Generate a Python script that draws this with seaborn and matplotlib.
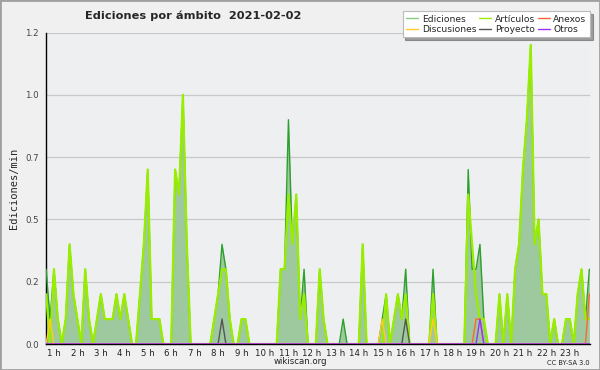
import numpy as np
import pandas as pd
import matplotlib
matplotlib.use("Agg")
import matplotlib.pyplot as plt
import seaborn as sns
from matplotlib.patches import Rectangle

# 10-minute bins starting at 0:40
START_H = 0 + 40 / 60
STEP_H = 10 / 60

ediciones = [
    0.3, 0.1, 0.3, 0.1, 0, 0.1, 0.4, 0.2, 0.1, 0,
    0.3, 0.1, 0, 0.1, 0.2, 0.1, 0.1, 0.1, 0.2, 0.1,
    0.2, 0.1, 0, 0, 0.2, 0.4, 0.7, 0.1, 0.1, 0.1,
    0, 0, 0, 0.7, 0.6, 1.0, 0.4, 0, 0, 0,
    0, 0, 0, 0.1, 0.2, 0.4, 0.3, 0.1, 0, 0,
    0.1, 0.1, 0, 0, 0, 0, 0, 0, 0, 0,
    0.3, 0.3, 0.9, 0.4, 0.6, 0.1, 0.3, 0, 0, 0,
    0.3, 0.1, 0, 0, 0, 0, 0.1, 0, 0, 0,
    0, 0.4, 0, 0, 0, 0, 0.1, 0.2, 0, 0.1,
    0.2, 0.1, 0.3, 0, 0, 0, 0, 0, 0, 0.3,
    0, 0, 0, 0, 0, 0, 0, 0, 0.7, 0.3,
    0.3, 0.4, 0.1, 0, 0, 0, 0.2, 0, 0.2, 0,
    0.3, 0.4, 0.7, 0.9, 1.2, 0.4, 0.5, 0.2, 0.2, 0,
    0.1, 0, 0, 0.1, 0.1, 0, 0.2, 0.3, 0.1, 0.3,
]
articulos = [
    0.2, 0, 0.3, 0.1, 0, 0.1, 0.4, 0.2, 0.1, 0,
    0.3, 0.1, 0, 0.1, 0.2, 0.1, 0.1, 0.1, 0.2, 0.1,
    0.2, 0.1, 0, 0, 0.2, 0.4, 0.7, 0.1, 0.1, 0.1,
    0, 0, 0, 0.7, 0.6, 1.0, 0.4, 0, 0, 0,
    0, 0, 0, 0.1, 0.2, 0.3, 0.3, 0.1, 0, 0,
    0.1, 0.1, 0, 0, 0, 0, 0, 0, 0, 0,
    0.3, 0.3, 0.6, 0.4, 0.6, 0.1, 0.2, 0, 0, 0,
    0.3, 0.1, 0, 0, 0, 0, 0, 0, 0, 0,
    0, 0.4, 0, 0, 0, 0, 0, 0.2, 0, 0.1,
    0.2, 0.1, 0.2, 0, 0, 0, 0, 0, 0, 0.2,
    0, 0, 0, 0, 0, 0, 0, 0, 0.6, 0.4,
    0.2, 0.1, 0.1, 0, 0, 0, 0.2, 0, 0.2, 0,
    0.3, 0.4, 0.7, 0.9, 1.2, 0.4, 0.5, 0.2, 0.2, 0,
    0.1, 0, 0, 0.1, 0.1, 0, 0.2, 0.3, 0.1, 0.1,
]
n = len(ediciones)
discusiones = [0.0] * n
discusiones[1] = 0.1
discusiones[86] = 0.1
discusiones[99] = 0.1
proyecto = [0.0] * n
proyecto[45] = 0.1
proyecto[92] = 0.1
anexos = [0.0] * n
anexos[110] = 0.1
anexos[111] = 0.1
anexos[139] = 0.2
otros = [0.0] * n
otros[111] = 0.1

hours = START_H + STEP_H * np.arange(n)
df = pd.DataFrame({
    "hora": hours,
    "Ediciones": ediciones,
    "Artículos": articulos,
    "Discusiones": discusiones,
    "Proyecto": proyecto,
    "Anexos": anexos,
    "Otros": otros,
})

colors = {
    "Ediciones": "#2ca02c",
    "Artículos": "#99ee00",
    "Discusiones": "#ffcc22",
    "Proyecto": "#555555",
    "Anexos": "#ff6633",
    "Otros": "#9933ff",
}
widths = {"Ediciones": 1.0, "Artículos": 1.6, "Discusiones": 1.0,
          "Proyecto": 1.0, "Anexos": 1.0, "Otros": 1.0}

sns.set_style("white")
plt.rcParams["font.family"] = ["DejaVu Sans"]

fig = plt.figure(figsize=(6, 3.7), dpi=100, facecolor="#f0f0f0")
fig.patches.append(Rectangle((0, 0), 1, 1, transform=fig.transFigure,
                             fill=False, edgecolor="#a0a0a0", linewidth=2))
ax = fig.add_axes([46 / 600, 26 / 370, 544 / 600, (344 - 32.5) / 370])
ax.set_facecolor("#eeeff1")

ax.fill_between(df["hora"], df["Ediciones"], color="#9ec89e", linewidth=0, zorder=2)
for name in ["Ediciones", "Artículos", "Discusiones", "Proyecto", "Anexos", "Otros"]:
    sns.lineplot(data=df, x="hora", y=name, ax=ax, color=colors[name],
                 linewidth=widths[name], zorder=3, label="_" + name)

ax.set_xlim(0.661, 23.86)
ax.set_ylim(0, 1.25)
ax.set_xticks(range(1, 24))
ax.set_xticklabels([f"{h} h" for h in range(1, 24)], fontsize=6.2, color="#222222")
ax.set_xticks(np.arange(1, 24, 1 / 6), minor=True)
ax.set_yticks([0, 0.25, 0.5, 0.75, 1.0, 1.25])
ax.set_yticklabels(["0.0", "0.2", "0.5", "0.7", "1.0", "1.2"], fontsize=6.2, color="#444444")
ax.set_yticks(np.arange(0, 1.26, 0.0625), minor=True)
ax.tick_params(axis="x", which="major", length=3, width=0.8, color="black", pad=0.5)
ax.tick_params(axis="x", which="minor", length=2.5, width=0.8, color="black")
ax.tick_params(axis="y", which="major", length=4, width=0.8, color="black", pad=1)
ax.tick_params(axis="y", which="minor", length=3, width=0.8, color="black")
ax.grid(axis="y", which="major", color="#c8c8c8", linewidth=0.9, zorder=1)
ax.set_axisbelow(True)
for s in ["top", "right"]:
    ax.spines[s].set_visible(False)
for s in ["left", "bottom"]:
    ax.spines[s].set_color("black")
    ax.spines[s].set_linewidth(1.0)
ax.set_xlabel("")
ax.set_ylabel("Ediciones/min", fontsize=7.5, family="DejaVu Sans Mono")
ax.yaxis.set_label_coords(-27 / 544, 0.5)

fig.text(85 / 600, 1 - 16 / 370, "Ediciones por ámbito  2021-02-02",
         fontsize=8.2, fontweight="bold", ha="left", va="center")
fig.text(300 / 600, 1 - 361 / 370, "wikiscan.org", fontsize=6.2, ha="center",
         va="center", color="#222222")
fig.text(590 / 600, 1 - 363 / 370, "CC BY-SA 3.0", fontsize=4.8, ha="right",
         va="center", color="#222222")

order = ["Ediciones", "Discusiones", "Artículos", "Proyecto", "Anexos", "Otros"]
handle_colors = dict(colors)
handle_colors["Ediciones"] = "#88cc88"
handles = [plt.Line2D([], [], color=handle_colors[k], linewidth=1) for k in order]
leg = fig.legend(handles, order, ncol=3, loc="upper right",
                 bbox_to_anchor=(590 / 600, 1 - 11 / 370), fontsize=6.6,
                 frameon=True, fancybox=False, shadow=True, handlelength=1.3,
                 handletextpad=0.4, columnspacing=0.3, labelspacing=0.12,
                 borderpad=0.4, borderaxespad=0)
leg.get_frame().set_edgecolor("#bbbbbb")
leg.get_frame().set_linewidth(0.8)

fig.savefig("out.png", dpi=100, facecolor=fig.get_facecolor())
